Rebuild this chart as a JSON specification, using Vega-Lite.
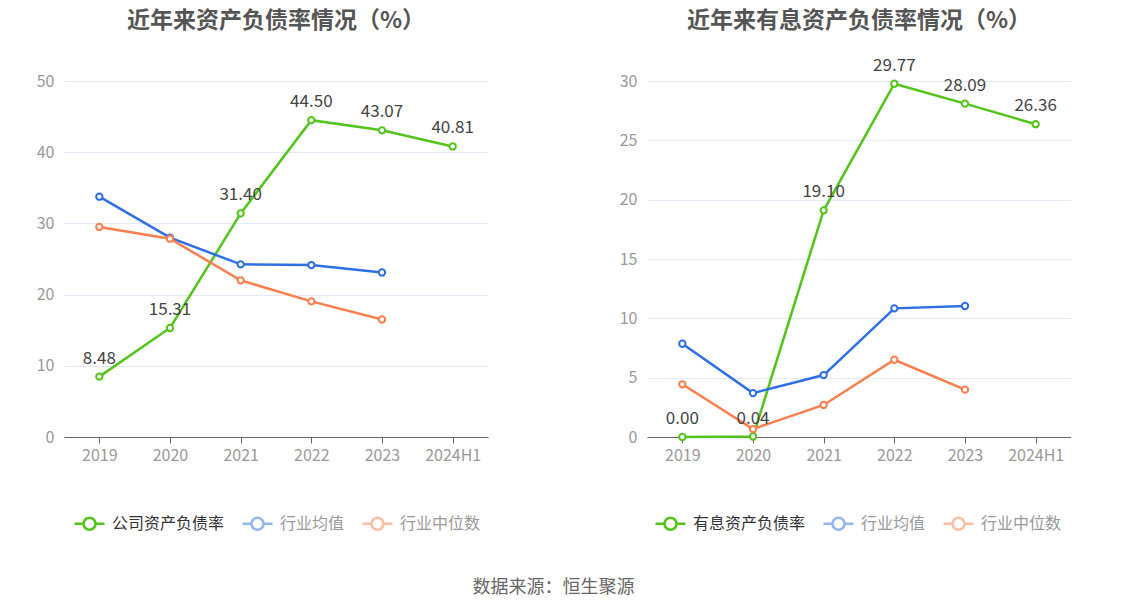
{
  "$schema": "https://vega.github.io/schema/vega-lite/v6.json",
  "background": "white",
  "padding": {"left": 36, "top": 9, "right": 0, "bottom": 0},
  "spacing": 131,
  "config": {
    "font": "Noto Sans CJK SC",
    "view": {"stroke": null},
    "axis": {"labelFont": "Noto Sans CJK SC", "labelFontSize": 16, "labelColor": "#999999"},
    "legend": {"labelFont": "Noto Sans CJK SC"}
  },
  "title": {"text": "数据来源：恒生聚源", "orient": "bottom", "anchor": "middle", "fontSize": 18, "fontWeight": "normal", "color": "#666666", "offset": 44, "frame": "bounds"},
  "data": {"values": [
    {"panel": "A", "year": "2019", "series": "公司资产负债率", "value": 8.48},
    {"panel": "A", "year": "2020", "series": "公司资产负债率", "value": 15.31},
    {"panel": "A", "year": "2021", "series": "公司资产负债率", "value": 31.40},
    {"panel": "A", "year": "2022", "series": "公司资产负债率", "value": 44.50},
    {"panel": "A", "year": "2023", "series": "公司资产负债率", "value": 43.07},
    {"panel": "A", "year": "2024H1", "series": "公司资产负债率", "value": 40.81},
    {"panel": "A", "year": "2019", "series": "行业均值", "value": 33.75},
    {"panel": "A", "year": "2020", "series": "行业均值", "value": 28.0},
    {"panel": "A", "year": "2021", "series": "行业均值", "value": 24.25},
    {"panel": "A", "year": "2022", "series": "行业均值", "value": 24.15},
    {"panel": "A", "year": "2023", "series": "行业均值", "value": 23.1},
    {"panel": "A", "year": "2019", "series": "行业中位数", "value": 29.5},
    {"panel": "A", "year": "2020", "series": "行业中位数", "value": 27.85},
    {"panel": "A", "year": "2021", "series": "行业中位数", "value": 22.0},
    {"panel": "A", "year": "2022", "series": "行业中位数", "value": 19.05},
    {"panel": "A", "year": "2023", "series": "行业中位数", "value": 16.5},
    {"panel": "B", "year": "2019", "series": "有息资产负债率", "value": 0.00},
    {"panel": "B", "year": "2020", "series": "有息资产负债率", "value": 0.04},
    {"panel": "B", "year": "2021", "series": "有息资产负债率", "value": 19.10},
    {"panel": "B", "year": "2022", "series": "有息资产负债率", "value": 29.77},
    {"panel": "B", "year": "2023", "series": "有息资产负债率", "value": 28.09},
    {"panel": "B", "year": "2024H1", "series": "有息资产负债率", "value": 26.36},
    {"panel": "B", "year": "2019", "series": "行业均值", "value": 7.86},
    {"panel": "B", "year": "2020", "series": "行业均值", "value": 3.7},
    {"panel": "B", "year": "2021", "series": "行业均值", "value": 5.22},
    {"panel": "B", "year": "2022", "series": "行业均值", "value": 10.84},
    {"panel": "B", "year": "2023", "series": "行业均值", "value": 11.04},
    {"panel": "B", "year": "2019", "series": "行业中位数", "value": 4.44},
    {"panel": "B", "year": "2020", "series": "行业中位数", "value": 0.67},
    {"panel": "B", "year": "2021", "series": "行业中位数", "value": 2.7},
    {"panel": "B", "year": "2022", "series": "行业中位数", "value": 6.51},
    {"panel": "B", "year": "2023", "series": "行业中位数", "value": 3.99}
  ]},
  "resolve": {"scale": {"color": "independent", "y": "independent", "x": "independent"}, "legend": {"color": "independent"}},
  "hconcat": [
    {
      "width": 424, "height": 356,
      "title": {"text": "近年来资产负债率情况（%）", "fontSize": 23, "fontWeight": "bold", "color": "#555555", "offset": 40, "anchor": "middle"},
      "transform": [{"filter": "datum.panel == 'A'"}],
      "encoding": {
        "x": {"field": "year", "type": "ordinal", "sort": null, "scale": {"type": "point", "padding": 0.5},
              "axis": {"title": null, "labelAngle": 0, "domainColor": "#666666", "tickColor": "#666666", "tickSize": 6, "labelPadding": 4, "grid": false}},
        "y": {"field": "value", "type": "quantitative", "scale": {"domain": [0, 50]},
              "axis": {"title": null, "values": [0, 10, 20, 30, 40, 50], "domain": false, "ticks": false, "labelPadding": 10, "gridColor": "#e3e8f2", "gridWidth": 1}},
        "color": {"field": "series", "type": "nominal",
                  "scale": {"domain": ["公司资产负债率", "行业均值", "行业中位数"], "range": ["#52c41a", "#2f6fe4", "#fa7f4d"]},
                  "legend": {"orient": "none", "legendX": 9, "legendY": 426, "direction": "horizontal", "title": null,
                             "symbolType": "M -1 0 L -0.4 0 M 0.4 0 A 0.4 0.4 0 1 1 -0.4 0 A 0.4 0.4 0 1 1 0.4 0 M 0.4 0 L 1 0",
                             "symbolSize": 900, "symbolStrokeWidth": 2.5, "symbolFillColor": "white", "labelFontSize": 16, "labelColor": "#999999", "columnPadding": 12, "labelOffset": 6,
                             "encode": {"symbols": {"update": {"opacity": {"signal": "datum.value == '公司资产负债率' ? 1 : 0.5"}}},
                                        "labels": {"update": {"fill": {"signal": "datum.value == '公司资产负债率' ? '#333333' : '#999999'"}}}}}}
      },
      "layer": [
        {"mark": {"type": "line", "strokeWidth": 2.5, "point": {"filled": false, "fill": "white", "size": 40, "strokeWidth": 2}}},
        {"transform": [{"filter": "datum.series == '公司资产负债率'"}],
         "mark": {"type": "text", "dy": -18, "fontSize": 17, "color": "#444444"},
         "encoding": {"text": {"field": "value", "type": "quantitative", "format": ".2f"}, "color": {"value": "#444444"}}}
      ]
    },
    {
      "width": 424, "height": 356,
      "title": {"text": "近年来有息资产负债率情况（%）", "fontSize": 23, "fontWeight": "bold", "color": "#555555", "offset": 24, "anchor": "middle"},
      "transform": [{"filter": "datum.panel == 'B'"}],
      "encoding": {
        "x": {"field": "year", "type": "ordinal", "sort": null, "scale": {"type": "point", "padding": 0.5},
              "axis": {"title": null, "labelAngle": 0, "domainColor": "#666666", "tickColor": "#666666", "tickSize": 6, "labelPadding": 4, "grid": false}},
        "y": {"field": "value", "type": "quantitative", "scale": {"domain": [0, 30]},
              "axis": {"title": null, "values": [0, 5, 10, 15, 20, 25, 30], "domain": false, "ticks": false, "labelPadding": 10, "gridColor": "#e3e8f2", "gridWidth": 1}},
        "color": {"field": "series", "type": "nominal",
                  "scale": {"domain": ["有息资产负债率", "行业均值", "行业中位数"], "range": ["#52c41a", "#2f6fe4", "#fa7f4d"]},
                  "legend": {"orient": "none", "legendX": 7, "legendY": 426, "direction": "horizontal", "title": null,
                             "symbolType": "M -1 0 L -0.4 0 M 0.4 0 A 0.4 0.4 0 1 1 -0.4 0 A 0.4 0.4 0 1 1 0.4 0 M 0.4 0 L 1 0",
                             "symbolSize": 900, "symbolStrokeWidth": 2.5, "symbolFillColor": "white", "labelFontSize": 16, "labelColor": "#999999", "columnPadding": 12, "labelOffset": 6,
                             "encode": {"symbols": {"update": {"opacity": {"signal": "datum.value == '有息资产负债率' ? 1 : 0.5"}}},
                                        "labels": {"update": {"fill": {"signal": "datum.value == '有息资产负债率' ? '#333333' : '#999999'"}}}}}}
      },
      "layer": [
        {"mark": {"type": "line", "strokeWidth": 2.5, "point": {"filled": false, "fill": "white", "size": 40, "strokeWidth": 2}}},
        {"transform": [{"filter": "datum.series == '有息资产负债率'"}],
         "mark": {"type": "text", "dy": -18, "fontSize": 17, "color": "#444444"},
         "encoding": {"text": {"field": "value", "type": "quantitative", "format": ".2f"}, "color": {"value": "#444444"}}}
      ]
    }
  ]
}
